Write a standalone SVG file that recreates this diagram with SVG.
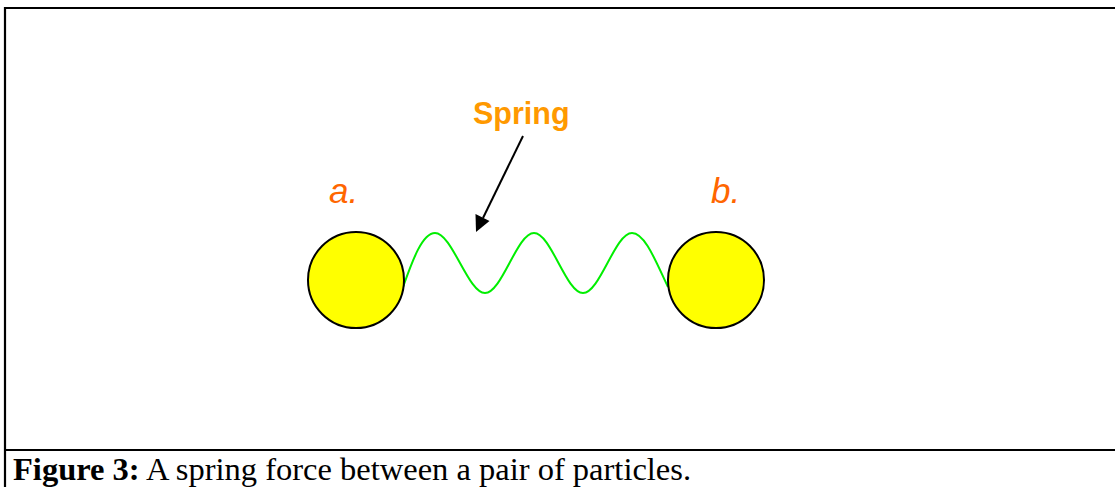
<svg xmlns="http://www.w3.org/2000/svg" width="1115" height="487" viewBox="0 0 1115 487">
<style>
.frame{stroke:#000;stroke-width:2.2;fill:none}
.ball{fill:#FFFF00;stroke:#000;stroke-width:2}
.lbl{font-family:"Liberation Sans",Arial,sans-serif;font-style:italic;font-size:35px;fill:#FF6600}
.spr{font-family:"Liberation Sans",Arial,sans-serif;font-weight:bold;font-size:30.5px;fill:#FF9900}
.cap{font-family:"Liberation Serif","Times New Roman",serif;font-size:32.5px;fill:#000}
</style>
<rect width="1115" height="487" fill="#fff"/>
<g id="frame">
<path class="frame" d="M1120,8 H5 V492"/>
<path class="frame" d="M5,450 H1120"/>
</g>
<g id="connectors">
<path id="spring" d="M403,287 C412,262 422,233 435,233 C452,233 468,293 485,293 C502,293 517,233 534,233 C551,233 566,293 583,293 C600,293 615,233 632,233 C645,233 656,262 668,287" fill="none" stroke="#00EE00" stroke-width="2"/>
<line x1="523" y1="136" x2="483" y2="218" stroke="#000" stroke-width="2"/>
<path d="M476,232 L475.5,214 L489.5,221 Z" fill="#000"/>
</g>
<g id="node-a">
<circle class="ball" cx="356" cy="280" r="48"/>
<text class="lbl" x="329" y="203">a.</text>
</g>
<g id="node-b">
<circle class="ball" cx="716" cy="280" r="48"/>
<text class="lbl" x="711" y="203">b.</text>
</g>
<g id="label-spring">
<text class="spr" x="473" y="124">Spring</text>
</g>
<g id="caption">
<text class="cap" x="13" y="480"><tspan font-weight="bold">Figure 3:</tspan> A spring force between a pair of particles.</text>
</g>
</svg>
